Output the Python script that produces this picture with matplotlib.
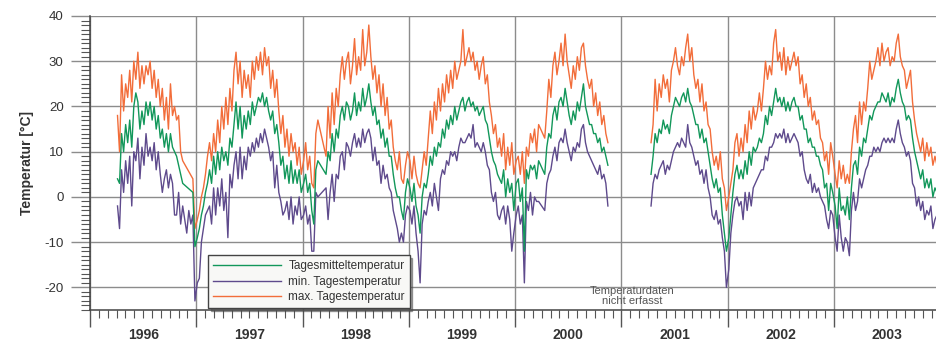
import numpy as np
import matplotlib
matplotlib.use("Agg")
import matplotlib.pyplot as plt

plt.rcParams['font.family'] = ['Liberation Sans', 'DejaVu Sans']
plt.rcParams['axes.unicode_minus'] = False

N = None

# weekly values (52 weeks per year), None = no data
tmax_1996 = [N]*13 + [18, 10, 27, 19, 25, 22, 28, 21, 30, 26, 32, 24, 29, 25, 29, 27, 30, 24, 28, 22, 26,
                      20, 24, 17, 22, 15, 25, 18, 20, 17, 18, 10, 8, N, N, N, N, 4, -7]
tmean_1996 = [N]*13 + [4, 3, 14, 10, 16, 12, 17, 11, 20, 23, 21, 15, 19, 16, 21, 18, 21, 17, 20, 15, 18,
                       13, 15, 11, 14, 10, 14, 11, 10, 9, 7, 5, 3, N, N, N, N, 1, -11]
tmin_1996 = [N]*13 + [-2, -7, 6, 1, 8, 3, 9, -2, 10, 8, 13, 4, 11, 7, 14, 9, 11, 8, 12, 6, 10,
                      5, 1, 4, 6, 2, 5, 3, -4, -4, 1, -6, -2, -5, -8, -3, -6, -4, -23]

tmax_1997 = [-5, -3, 0, 2, 5, 9, 12, 8, 14, 10, 17, 12, 20, 15, 22, 16, 24, 19, 28, 32, 25, 30, 22, 28, 24, 27,
             22, 30, 26, 31, 28, 32, 27, 33, 29, 31, 24, 28, 22, 26, 19, 14, 18, 11, 15, 9, 14, 10, 12, 7, 11, 5]
tmean_1997 = [-9, -7, -4, -2, 1, 3, 6, 3, 9, 5, 10, 6, 11, 8, 10, 7, 13, 11, 16, 21, 15, 20, 13, 18, 15, 19,
              16, 21, 18, 20, 22, 21, 23, 20, 22, 19, 17, 19, 14, 16, 12, 7, 9, 4, 7, 3, 8, 3, 6, 3, 6, 1]
tmin_1997 = [-19, -18, -10, -7, -4, -3, -2, -6, 2, -4, 2, -2, 4, -3, 1, -9, 5, 2, 7, 10, 4, 11, 4, 9, 6, 11,
             9, 12, 10, 13, 11, 14, 12, 15, 13, 11, 8, 10, 2, 7, 1, -1, -4, -3, -1, -5, 0, -6, -2, -4, 0, -5]

tmax_1998 = [8, 12, 6, 9, 3, 2, 14, 17, N, N, N, 9, 20, 13, 23, 16, 24, 20, 27, 31, 26, 30, 32, 25, 29, 35,
             27, 31, 28, 37, 29, 32, 38, 31, 26, 29, 23, 27, 20, 25, 18, 22, 15, 17, 11, 8, 6, 10, 4, 3, 7, 10]
tmean_1998 = [3, 5, 1, 3, -3, -6, 6, 8, N, N, N, 5, 10, 8, 14, 10, 15, 13, 18, 20, 17, 21, 20, 17, 19, 23,
              18, 21, 19, 24, 20, 22, 25, 21, 18, 20, 16, 17, 13, 15, 11, 13, 9, 9, 5, 2, 0, 0, -3, -5, 1, 4]
tmin_1998 = [-4, -2, -6, -4, -12, -12, 1, 0, N, N, N, 2, -5, 1, 5, -1, 5, 4, 9, 10, 6, 12, 11, 9, 12, 14,
             11, 13, 11, 15, 12, 14, 15, 13, 8, 11, 7, 8, 3, 7, 4, 5, 2, 1, -3, -5, -7, -10, -8, -10, -4, -2]

tmax_1999 = [8, 4, 9, 5, 3, 2, 6, 10, 7, 13, 19, 14, 21, 17, 24, 19, 25, 21, 27, 23, 28, 24, 30, 26, 28, 30,
             37, 29, 31, 33, 30, 32, 28, 30, 26, 29, 31, 25, 27, 21, 18, 14, 16, 11, 13, 9, 14, 6, 11, 7, 12, 5]
tmean_1999 = [2, -1, 3, -2, -4, -8, 0, 3, 2, 5, 9, 7, 11, 9, 12, 11, 15, 13, 17, 15, 18, 16, 20, 17, 19, 21,
              22, 19, 21, 22, 20, 21, 19, 20, 18, 19, 20, 17, 16, 13, 10, 8, 7, 5, 4, 3, 6, 0, 4, 1, 3, -3]
tmin_1999 = [-3, -6, -2, -8, -12, -19, -6, -3, -4, -1, 1, -2, 3, 0, -3, 4, 6, 5, 8, 7, 10, 9, 10, 8, 11, 13,
             12, 12, 13, 14, 13, 16, 11, 12, 11, 10, 12, 10, 7, 6, 1, -1, 1, -4, -5, -3, -2, -6, -2, -5, -12, -8]

tmax_2000 = [8, 9, 5, 10, 3, 11, 9, 14, 12, 15, 10, 16, N, N, 13, 19, 26, 22, 29, 32, 27, 30, 34, 29, 36, 30,
             27, 24, 29, 26, 31, 28, 33, 34, 29, 26, 24, 26, 20, 23, 18, 21, 16, 18, 14, 12] + [N]*6
tmean_2000 = [3, 4, -1, 2, -12, 6, 4, 7, 6, 7, 4, 8, N, N, 5, 11, 14, 13, 18, 20, 17, 21, 22, 20, 24, 21,
              18, 16, 19, 17, 21, 19, 22, 25, 20, 18, 16, 16, 14, 14, 12, 13, 10, 11, 9, 7] + [N]*6
tmin_2000 = [-4, -2, -6, -4, -19, -1, -3, 1, -4, 0, -1, -1, N, N, -3, 3, 5, 6, 9, 11, 8, 12, 13, 12, 15, 12,
             10, 8, 11, 10, 12, 11, 15, 16, 12, 10, 9, 8, 7, 6, 5, 7, 4, 5, 3, -2] + [N]*6

tmax_2001 = [N]*14 + [12, 16, 26, 19, 25, 22, 27, 24, 26, 21, 28, 30, 33, 29, 27, 31, 29, 33, 36, 30, 33,
                      27, 24, 26, 21, 25, 19, 21, 16, 15, 10, 7, 9, 6, 10, 4, 2, -3]
tmean_2001 = [N]*14 + [5, 9, 14, 12, 15, 14, 17, 15, 16, 14, 18, 20, 22, 21, 20, 22, 23, 21, 24, 21, 20,
                       18, 16, 16, 13, 15, 12, 13, 10, 7, 4, 2, 4, 1, 2, -4, -8, -12]
tmin_2001 = [N]*14 + [-2, 3, 5, 4, 6, 7, 8, 5, 7, 6, 8, 10, 11, 12, 11, 13, 12, 11, 16, 12, 11,
                      9, 7, 8, 5, 6, 3, 6, 2, 0, -4, -5, -3, -6, -5, -9, -12, -20]

tmax_2002 = [0, 3, 6, 12, 14, 9, 13, 10, 16, 12, 19, 15, 20, 17, 19, 23, 19, 24, 30, 26, 29, 27, 34, 37, 30, 32,
             28, 33, 27, 31, 28, 30, 32, 29, 31, 25, 27, 22, 25, 20, 22, 17, 19, 16, 17, 13, 12, 8, 10, 5, 12, 9]
tmean_2002 = [-9, -4, 1, 5, 7, 4, 6, 4, 8, 5, 10, 7, 11, 10, 11, 13, 12, 14, 18, 16, 20, 18, 21, 24, 21, 22,
              20, 22, 19, 21, 19, 21, 22, 20, 20, 17, 18, 15, 15, 12, 13, 11, 11, 9, 9, 7, 6, 2, 3, -3, 3, 1]
tmin_2002 = [-16, -8, -4, -1, 0, -2, -1, -5, 1, -3, 1, -2, 2, 3, 4, 5, 6, 6, 9, 8, 11, 11, 12, 14, 13, 14,
             13, 15, 12, 14, 12, 13, 14, 13, 12, 9, 10, 6, 4, 3, 5, 1, 3, 1, 2, 0, -1, -2, -5, -7, -3, -4]

tmax_2003 = [5, 2, 8, 4, 7, 3, 5, 3, 10, 15, 18, 12, 21, 16, 21, 19, 24, 30, 26, 28, 30, 33, 29, 34, 30, 32,
             33, 29, 31, 30, 34, 36, 31, 29, 28, 24, 26, 28, 21, 17, 14, 12, 10, 13, 8, 12, 9, 11, 7, 9, 7, 5]
tmean_2003 = [-2, -7, 2, -3, -2, -4, 0, -5, 2, 7, 8, 5, 11, 9, 13, 12, 15, 18, 17, 19, 20, 21, 21, 23, 22, 21,
              23, 20, 22, 21, 24, 26, 23, 21, 20, 17, 18, 17, 13, 10, 8, 6, 4, 6, 2, 4, 2, 4, 0, 2, 1, -1]
tmin_2003 = [-9, -12, -4, -9, -12, -9, -10, -13, -3, 1, -3, -1, 4, 2, 4, 6, 7, 9, 9, 11, 10, 11, 10, 12, 13, 12,
             13, 12, 13, 12, 15, 17, 14, 12, 11, 9, 10, 8, 3, 2, -2, 0, -3, -1, -5, -3, -4, -2, -7, -5, -4, -6]

years = [1996, 1997, 1998, 1999, 2000, 2001, 2002, 2003]
tmax = [tmax_1996, tmax_1997, tmax_1998, tmax_1999, tmax_2000, tmax_2001, tmax_2002, tmax_2003]
tmean = [tmean_1996, tmean_1997, tmean_1998, tmean_1999, tmean_2000, tmean_2001, tmean_2002, tmean_2003]
tmin = [tmin_1996, tmin_1997, tmin_1998, tmin_1999, tmin_2000, tmin_2001, tmin_2002, tmin_2003]

labels = ["Tagesmitteltemperatur", "min. Tagestemperatur", "max. Tagestemperatur"]
c_mean, c_min, c_max = "#12975a", "#5e4a8c", "#f26d3a"

fig = plt.figure(figsize=(9.36, 3.51), dpi=100)
ax = fig.add_axes([90/936, 41/351, 846/936, 294/351])


def segment(series, idx):
    xs, ys = [], []
    for i in idx:
        yr = years[i]
        vals = np.array([np.nan if v is None else v for v in series[i]], dtype=float)
        xs.append(yr + (np.arange(len(vals)) * 7 + 3.5) / 365.25)
        ys.append(vals)
    x = np.concatenate(xs)
    y = np.concatenate(ys)
    ok = np.isfinite(y)
    return x[ok], y[ok]


handles = {}
# data gap between late 2000 and spring 2001 is left open
for idx in [range(0, 5), range(5, 8)]:
    for key, series, col in [("max", tmax, c_max), ("min", tmin, c_min), ("mean", tmean, c_mean)]:
        x, y = segment(series, idx)
        ln, = ax.plot(x, y, color=col, lw=1.0, zorder=3)
        handles[key] = ln

ax.set_xlim(1996, 1996 + 846/106.3)
ax.set_ylim(-25, 40)

ax.set_xticks(range(1996, 2004))
ax.set_xticks([y + m/12 for y in range(1996, 2004) for m in range(1, 12)], minor=True)
ax.set_xticklabels([])
ax.set_yticks(range(-20, 41, 10))
ax.set_yticks(range(-25, 41), minor=True)

ax.tick_params(axis='x', which='major', length=12, width=1.0, color='#555555')
ax.tick_params(axis='x', which='minor', length=6, width=0.8, color='#555555')
ax.tick_params(axis='y', which='major', length=14, width=1.0, color='#8c8c8c',
               labelsize=9.5, labelcolor='#333333', pad=5)
ax.tick_params(axis='y', which='minor', length=6.5, width=0.8, color='#555555')

ax.grid(which='major', color='#8c8c8c', lw=1.0)
ax.set_axisbelow(True)
for s in ['top', 'right']:
    ax.spines[s].set_visible(False)
for s in ['left', 'bottom']:
    ax.spines[s].set_color('#444444')
    ax.spines[s].set_linewidth(1.1)

for yr in years:
    ax.text(yr + 0.5, -0.085, str(yr), transform=ax.get_xaxis_transform(), ha='center', va='center',
            fontsize=10, fontweight='bold', color='#333333')

fig.text(27/936, 1 - 163/351, "Temperatur [°C]", rotation=90, ha='center', va='center',
         fontsize=10, fontweight='bold', color='#333333')

ax.text(2001.10, -22, "Temperaturdaten\nnicht erfasst", ha='center', va='center',
        fontsize=8, color='#555555', linespacing=1.0)

leg = ax.legend([handles["mean"], handles["min"], handles["max"]], labels,
                loc='lower left', bbox_to_anchor=(0.1395, 0.007), borderaxespad=0,
                fontsize=8.5, handlelength=5.8, labelspacing=0.3, handletextpad=0.6,
                fancybox=False, shadow=True, framealpha=1, edgecolor='#444444',
                facecolor='#f8f8f6', borderpad=0.4)
for t in leg.get_texts():
    t.set_color('#333333')
leg.set_zorder(5)

fig.savefig("out.png", dpi=100)
